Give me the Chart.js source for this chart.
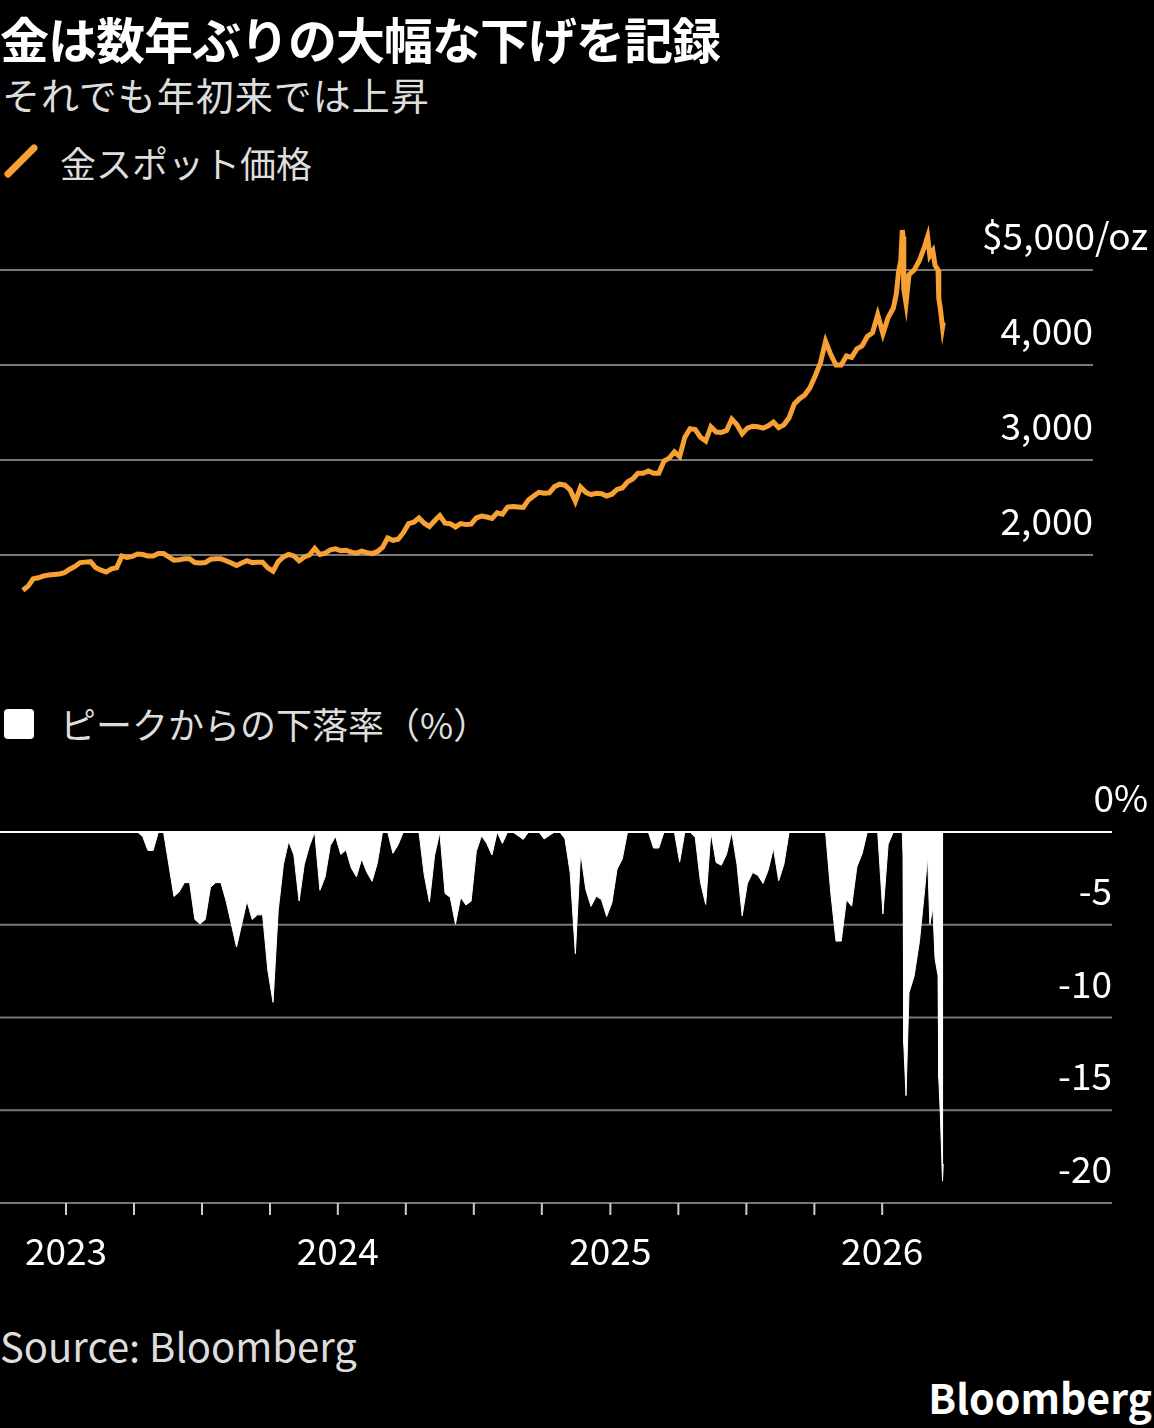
<!DOCTYPE html>
<html><head><meta charset="utf-8">
<script src="https://cdn.jsdelivr.net/npm/chart.js@4"></script>
<style>
body{margin:0;background:#000;width:1154px;height:1428px;position:relative;overflow:hidden;font-family:"Noto Sans CJK JP","Noto Sans",sans-serif;color:#fff}
.t{position:absolute;white-space:nowrap}
canvas{position:absolute;left:0}
</style></head><body>
<div class="t" style="left:0px;top:2px;font-size:49px;font-weight:bold;letter-spacing:-1px">金は数年ぶりの大幅な下げを記録</div>
<div class="t" style="left:2px;top:66px;font-size:38px;color:#ddd;letter-spacing:1px">それでも年初来では上昇</div>
<svg class="t" style="left:4px;top:144px" width="34" height="34"><line x1="4" y1="30" x2="30" y2="4" stroke="#f7a034" stroke-width="7" stroke-linecap="round"/></svg>
<div class="t" style="left:60px;top:136px;font-size:36px;color:#ddd">金スポット価格</div>
<div class="t" style="left:4px;top:709px;width:30px;height:30px;background:#fff;border-radius:4px"></div>
<div class="t" style="left:60px;top:697px;font-size:36px;color:#ddd">ピークからの下落率（%）</div>
<div class="t" style="left:0px;top:1316px;font-size:40px;color:#ddd">Source: Bloomberg</div>
<div class="t" style="right:2px;top:1366px;font-size:41px;font-weight:bold">Bloomberg</div>
<div style="position:absolute;left:0;top:200px;width:1154px;height:440px"><canvas id="top"></canvas></div>
<div style="position:absolute;left:0;top:780px;width:1154px;height:520px"><canvas id="bot"></canvas></div>
<script>
// weekly gold spot (USD/oz), Fridays starting 2022-11-04
const weeklyStart = "2022-11-04";
const weeklyPrices = [
  1630,1670,1750,1760, 1780,1790,1795,1800,1815,
  1850,1880,1920,1925, 1930,1865,1840,1820, 1855,1865,1990,1975,1985,
  2010,2005,1990,1990, 2015,2015,1980,1945, 1950,1960,1960,1920,1915,
  1920,1955,1960,1960, 1940,1915,1890,1915,1940, 1920,1925,1925,1865,
  1830,1930,1980,2005, 1990,1940,1980,2000, 2070,2005,2020,2055,2065,
  2045,2050,2030,2020, 2040,2025,2015,2035, 2080,2180,2155,2165,2235,
  2330,2345,2390,2335, 2300,2360,2415,2335,2330, 2295,2330,2320,2325,
  2390,2410,2400,2385, 2445,2430,2505,2510,2505, 2500,2580,2620,2660,
  2650,2655,2720,2745, 2735,2685,2565,2715,2660, 2635,2650,2645,2620,
  2640,2690,2705,2770,2800, 2860,2860,2885,2860, 2860,2990,3020,3085,
  3035,3240,3330,3320, 3240,3200,3350,3295,3290, 3310,3430,3370,3275,
  3335,3355,3350,3335,3360, 3400,3340,3370,3445, 3590,3645,3685,3760,
  3885,4020,4250,4110,4000, 4000,4095,4080,4170, 4200,4300,4340,4530,4330,
  4500,4600
];
// denser points for the 2026 swings
const lateDates = ["2026-01-20","2026-01-23","2026-01-26","2026-01-28","2026-01-29","2026-01-30","2026-02-02","2026-02-06","2026-02-13","2026-02-20","2026-02-27","2026-03-03","2026-03-06","2026-03-10","2026-03-13","2026-03-17","2026-03-18","2026-03-20","2026-03-23","2026-03-24"];
const latePrices = [4750,4980,5100,5420,5350,4800,4650,4950,5000,5100,5250,5350,5150,5200,5050,5000,4700,4600,4400,4450];
// drawdown panel is measured from peaks set since this date
const ddStart = "2023-03-20";

const priceTicks = [2000,3000,4000,5000];
const priceLabels = ["2,000","3,000","4,000","$5,000/oz"];
const ddTicks = [0,-5,-10,-15,-20];
const ddLabels = ["0%","-5","-10","-15","-20"];
const yearTicks = ["2023","2024","2025","2026"];

const DAY = 86400000;
const t0 = Date.parse(weeklyStart);
const priceData = weeklyPrices.map((v,i)=>({x:t0+i*7*DAY,y:v}))
  .concat(lateDates.map((d,i)=>({x:Date.parse(d),y:latePrices[i]})));
let peak = 0;
const ddData = priceData.map(p=>{
  if(p.x<Date.parse(ddStart)) return {x:p.x,y:0};
  peak=Math.max(peak,p.y);return {x:p.x,y:(p.y/peak-1)*100};});

const yr = y=>Date.UTC(y,0,1);
const pxPerYear = 272;
const xMin = yr(2023) - 66/pxPerYear*365.25*DAY;
const xMax = yr(2023) + (1112-66)/pxPerYear*365.25*DAY;
const FONT = '"Noto Sans CJK JP","Noto Sans",sans-serif';

function xScale(){return {type:'linear',min:xMin,max:xMax,display:false};}

new Chart(document.getElementById('top'),{
  type:'line',
  data:{datasets:[{data:priceData,borderColor:'#f7a034',borderWidth:5,pointRadius:0,tension:0,clip:false}]},
  options:{responsive:true,maintainAspectRatio:false,animation:false,
    layout:{padding:{left:0,right:42,top:13,bottom:18.5}},
    plugins:{legend:{display:false},tooltip:{enabled:false}},
    scales:{x:xScale(),y:{min:1300,max:5600,display:false}}},
  plugins:[{id:'grid',beforeDatasetsDraw(c){
    const g=c.ctx,y=c.scales.y;g.save();
    g.strokeStyle='#777';g.lineWidth=2;
    g.font='37px '+FONT;g.fillStyle='#fff';g.textAlign='right';g.textBaseline='middle';
    priceTicks.forEach((v,i)=>{const py=y.getPixelForValue(v);
      g.beginPath();g.moveTo(0,py);g.lineTo(1093,py);g.stroke();
      g.fillText(priceLabels[i],i==3?1148:1093,py-34);});
    g.restore();}}]
});

new Chart(document.getElementById('bot'),{
  type:'line',
  data:{datasets:[{data:ddData,borderColor:'#fff',borderWidth:1,backgroundColor:'#fff',fill:'origin',pointRadius:0,tension:0}]},
  options:{responsive:true,maintainAspectRatio:false,animation:false,
    layout:{padding:{left:0,right:42,top:52,bottom:97}},
    plugins:{legend:{display:false},tooltip:{enabled:false}},
    scales:{x:xScale(),y:{min:-20,max:0,display:false}}},
  plugins:[{id:'grid',beforeDatasetsDraw(c){
    const g=c.ctx,y=c.scales.y,x=c.scales.x;g.save();
    g.font='37px '+FONT;g.fillStyle='#fff';g.textAlign='right';g.textBaseline='middle';
    ddTicks.forEach((v,i)=>{const py=y.getPixelForValue(v);
      g.strokeStyle='#777';g.lineWidth=2;
      g.beginPath();g.moveTo(0,py);g.lineTo(1112,py);g.stroke();
      g.fillText(ddLabels[i],i==0?1148:1112,py-34);});
    const by=y.getPixelForValue(-20);
    g.strokeStyle='#ccc';g.lineWidth=2;g.textAlign='center';
    for(let q=0;q<13;q++){const px=x.getPixelForValue(yr(2023+Math.floor(q/4))+(q%4)*365.25/4*DAY);
      g.beginPath();g.moveTo(px,by);g.lineTo(px,by+12);g.stroke();
      if(q%4==0)g.fillText(yearTicks[q/4],px,by+48);}
    g.restore();},
  afterDatasetsDraw(c){const g=c.ctx,py=c.scales.y.getPixelForValue(0);
    g.save();g.strokeStyle='#fff';g.lineWidth=2;g.beginPath();g.moveTo(0,py);g.lineTo(1112,py);g.stroke();g.restore();}}]
});
</script>
</body></html>
